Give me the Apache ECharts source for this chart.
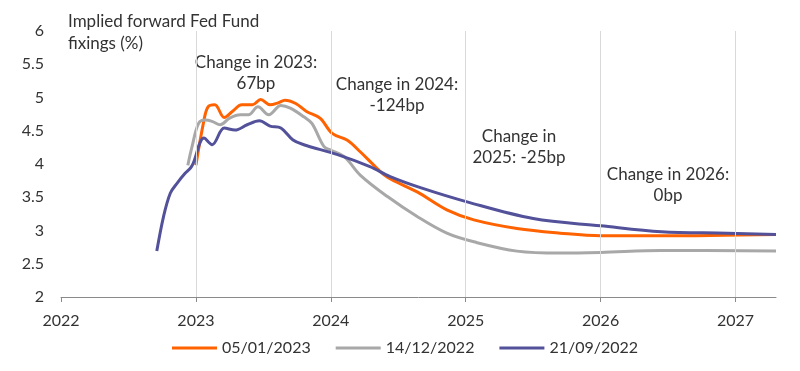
<!DOCTYPE html>
<html>
<head>
<meta charset="utf-8">
<script src="https://cdn.jsdelivr.net/npm/echarts@6/dist/echarts.min.js"></script>
<style>html,body{margin:0;padding:0;background:#fff}#c{width:800px;height:371px}</style>
</head>
<body>
<div id="c"></div>
<script>
// ---- data ----
const yearTicks = [2022, 2023, 2024, 2025, 2026, 2027];
const seriesNames = ['05/01/2023', '14/12/2022', '21/09/2022'];
const orange = [
  [2023.00, 3.98], [2023.06, 4.66], [2023.09, 4.86], [2023.14, 4.89], [2023.21, 4.70],
  [2023.27, 4.79], [2023.34, 4.89], [2023.42, 4.89], [2023.48, 4.97], [2023.55, 4.89],
  [2023.61, 4.92], [2023.66, 4.96], [2023.74, 4.91], [2023.82, 4.79], [2023.92, 4.69],
  [2024.01, 4.46], [2024.12, 4.36], [2024.22, 4.18], [2024.34, 3.94], [2024.42, 3.80],
  [2024.64, 3.58], [2024.86, 3.31], [2025.06, 3.16], [2025.38, 3.03], [2025.70, 2.96],
  [2026.00, 2.92], [2026.45, 2.92], [2027.30, 2.94]
];
const gray = [
  [2022.94, 3.98], [2022.97, 4.25], [2023.02, 4.61], [2023.07, 4.66], [2023.12, 4.64],
  [2023.18, 4.59], [2023.25, 4.69], [2023.33, 4.74], [2023.39, 4.74], [2023.46, 4.86],
  [2023.54, 4.74], [2023.63, 4.88], [2023.70, 4.84], [2023.80, 4.71], [2023.86, 4.61],
  [2023.95, 4.26], [2024.00, 4.21], [2024.10, 4.11], [2024.22, 3.83], [2024.42, 3.51],
  [2024.64, 3.21], [2024.86, 2.96], [2025.06, 2.83], [2025.38, 2.69], [2025.70, 2.66],
  [2026.00, 2.67], [2026.45, 2.70], [2027.30, 2.69]
];
const purple = [
  [2022.71, 2.69], [2022.76, 3.21], [2022.81, 3.56], [2022.86, 3.71], [2022.92, 3.86],
  [2022.96, 3.94], [2022.98, 4.01], [2023.06, 4.39], [2023.12, 4.29], [2023.21, 4.54],
  [2023.29, 4.51], [2023.38, 4.59], [2023.47, 4.65], [2023.55, 4.57], [2023.63, 4.54],
  [2023.72, 4.36], [2023.80, 4.29], [2024.05, 4.14], [2024.29, 3.96], [2024.44, 3.81],
  [2024.67, 3.64], [2025.01, 3.43], [2025.50, 3.18], [2026.00, 3.07], [2026.45, 2.98],
  [2026.94, 2.96], [2027.30, 2.94]
];
const annotations = [
  'Change in 2023:\n67bp',
  'Change in 2024:\n-124bp',
  'Change in\n2025: -25bp',
  'Change in 2026:\n0bp'
];
const yTitle = 'Implied forward Fed Fund\nfixings (%)';

// ---- chart ----
const FONT = 'Lato';
const TXT = '#333333';
const colors = ['#FF6200', '#A8A8A8', '#525199'];
const chart = echarts.init(document.getElementById('c'), null, {renderer: 'canvas'});

const annPos = [[256, 52], [397, 74], [519, 126], [668, 164]];

chart.setOption({
  animation: false,
  color: colors,
  textStyle: {fontFamily: FONT},
  grid: {left: 61, right: 24, top: 31, bottom: 74, containLabel: false},
  title: {
    text: yTitle, left: 68, top: 11, padding: 0,
    textStyle: {fontFamily: FONT, fontSize: 17, fontWeight: 'normal', color: TXT, lineHeight: 22}
  },
  legend: {
    top: 335, left: 167,
    icon: 'rect', itemWidth: 45, itemHeight: 3, itemGap: 25,
    textStyle: {fontFamily: FONT, fontSize: 16, color: TXT, padding: [0, 0, 0, 0]},
    data: seriesNames
  },
  xAxis: {
    type: 'value', min: 2022, max: 2027.3, interval: 1,
    axisLine: {show: true, lineStyle: {color: '#8a8a8a', width: 1}},
    axisTick: {show: true, length: 5, lineStyle: {color: '#8a8a8a'}, customValues: yearTicks},
    axisLabel: {fontFamily: FONT, fontSize: 16, color: TXT, margin: 16, customValues: yearTicks,
      formatter: v => String(Math.round(v))},
    splitLine: {show: false}
  },
  yAxis: {
    type: 'value', min: 2, max: 6, interval: 0.5,
    axisLine: {show: false}, axisTick: {show: false},
    axisLabel: {fontFamily: FONT, fontSize: 16, color: TXT, margin: 17},
    splitLine: {show: false}
  },
  graphic: annotations.map((t, i) => ({
    type: 'text', x: annPos[i][0], y: annPos[i][1],
    style: {text: t, fontFamily: FONT, fontSize: 17, fill: TXT,
      align: 'center', textAlign: 'center', lineHeight: 21}
  })),
  series: [
    {
      type: 'line', name: '__grid', data: [], silent: true, z: 0,
      markLine: {
        silent: true, symbol: 'none', label: {show: false},
        lineStyle: {color: '#d9d9d9', width: 1, type: 'solid'},
        data: yearTicks.slice(1).map(y => ({xAxis: y}))
      }
    },
    {type: 'line', name: seriesNames[0], data: orange, showSymbol: false, smooth: 0.35,
     lineStyle: {width: 3, color: colors[0]}, itemStyle: {color: colors[0]}, z: 3},
    {type: 'line', name: seriesNames[1], data: gray, showSymbol: false, smooth: 0.35,
     lineStyle: {width: 3, color: colors[1]}, itemStyle: {color: colors[1]}, z: 3},
    {type: 'line', name: seriesNames[2], data: purple, showSymbol: false, smooth: 0.35,
     lineStyle: {width: 3, color: colors[2]}, itemStyle: {color: colors[2]}, z: 3}
  ]
});
</script>
</body>
</html>
